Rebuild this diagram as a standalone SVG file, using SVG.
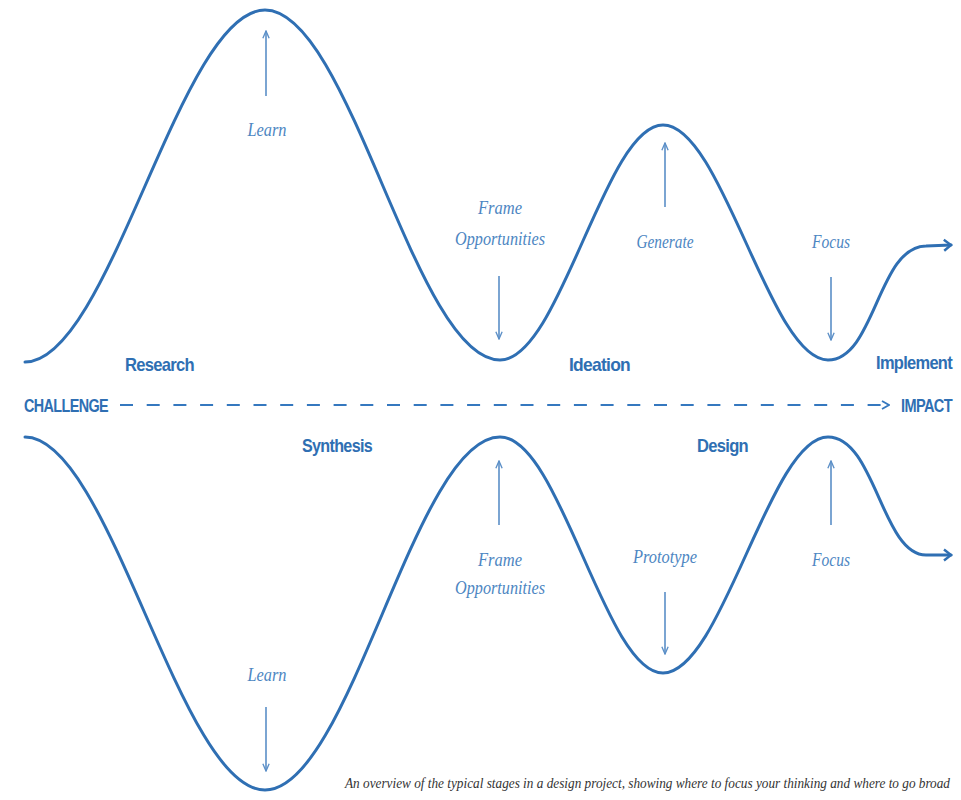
<svg xmlns="http://www.w3.org/2000/svg" width="961" height="800" viewBox="0 0 961 800">
<defs>
<style>
.curve{fill:none;stroke:#2f6fb3;stroke-width:3;stroke-linecap:round}
.arr{fill:none;stroke:#5b8fc7;stroke-width:1.6}
.dash{fill:none;stroke:#3578bf;stroke-width:2.2;stroke-dasharray:13 13.7}
.stage{font-family:"Liberation Sans",Arial,sans-serif;font-weight:bold;font-size:19px;fill:#2f6fb3;letter-spacing:-0.8px}
.act{font-family:"Liberation Serif","Times New Roman",serif;font-style:italic;font-size:19px;fill:#4d86c2;text-anchor:middle}
.cap{font-family:"Liberation Serif","Times New Roman",serif;font-style:italic;font-size:15px;fill:#333}
</style>
<marker id="open" viewBox="0 0 10 10" refX="9" refY="5" markerWidth="10" markerHeight="10" markerUnits="userSpaceOnUse" orient="auto">
<polyline points="2,1 9,5 2,9" fill="none" stroke="#3578bf" stroke-width="1.8"/>
</marker>
<marker id="big" viewBox="0 0 12 14" refX="10" refY="7" markerWidth="12" markerHeight="14" markerUnits="userSpaceOnUse" orient="auto">
<polyline points="3,1.5 10,7 3,12.5" fill="none" stroke="#2f6fb3" stroke-width="2.4"/>
</marker>
<marker id="thin" viewBox="0 0 10 10" refX="9" refY="5" markerWidth="9" markerHeight="9" markerUnits="userSpaceOnUse" orient="auto">
<polyline points="1,1.5 9,5 1,8.5" fill="none" stroke="#5b8fc7" stroke-width="1.5"/>
</marker>
</defs>
<g id="connectors">
<path id="top-curve" class="curve" marker-end="url(#big)" d="M25,362 C110,362 180,10 265,10 C350,10 415,360 500,360 C560,360 605,125 663,125 C722,125 770,360 828,360 C875,360 878,246 926,246 L951,245"/>
<path id="bottom-curve" class="curve" marker-end="url(#big)" d="M25,437 C110,437 180,790 265,790 C350,790 415,437 500,437 C560,437 605,673 663,673 C722,673 770,437 828,437 C875,437 882,555 926,555 L951,555"/>
<path id="main-line" class="dash" marker-end="url(#open)" d="M120,405 L889,405"/>
<line class="arr" marker-end="url(#thin)" x1="266" y1="96" x2="266" y2="31"/>
<line class="arr" marker-end="url(#thin)" x1="499" y1="276" x2="499" y2="339"/>
<line class="arr" marker-end="url(#thin)" x1="665" y1="207" x2="665" y2="143"/>
<line class="arr" marker-end="url(#thin)" x1="831" y1="277" x2="831" y2="340"/>
<line class="arr" marker-end="url(#thin)" x1="499" y1="525" x2="499" y2="461"/>
<line class="arr" marker-end="url(#thin)" x1="665" y1="592" x2="665" y2="654"/>
<line class="arr" marker-end="url(#thin)" x1="831" y1="525" x2="831" y2="461"/>
<line class="arr" marker-end="url(#thin)" x1="266" y1="707" x2="266" y2="771"/>
</g>
<g id="challenge"><text class="stage" x="24" y="412" textLength="84" lengthAdjust="spacingAndGlyphs">CHALLENGE</text></g>
<g id="impact"><text class="stage" x="901" y="412" textLength="51" lengthAdjust="spacingAndGlyphs">IMPACT</text></g>
<g id="research"><text class="stage" x="125" y="371" textLength="69" lengthAdjust="spacingAndGlyphs">Research</text></g>
<g id="ideation"><text class="stage" x="569" y="371" textLength="61" lengthAdjust="spacingAndGlyphs">Ideation</text></g>
<g id="implement"><text class="stage" x="876" y="369" textLength="76" lengthAdjust="spacingAndGlyphs">Implement</text></g>
<g id="synthesis"><text class="stage" x="302" y="452" textLength="70" lengthAdjust="spacingAndGlyphs">Synthesis</text></g>
<g id="design"><text class="stage" x="697" y="452" textLength="51" lengthAdjust="spacingAndGlyphs">Design</text></g>
<g id="learn-top"><text class="act" x="267" y="136" textLength="39" lengthAdjust="spacingAndGlyphs">Learn</text></g>
<g id="frame-top"><text class="act" x="500" y="214" textLength="44" lengthAdjust="spacingAndGlyphs">Frame</text><text class="act" x="500" y="245" textLength="90" lengthAdjust="spacingAndGlyphs">Opportunities</text></g>
<g id="generate"><text class="act" x="665" y="248" textLength="57" lengthAdjust="spacingAndGlyphs">Generate</text></g>
<g id="focus-top"><text class="act" x="831" y="248" textLength="38" lengthAdjust="spacingAndGlyphs">Focus</text></g>
<g id="frame-bottom"><text class="act" x="500" y="566" textLength="44" lengthAdjust="spacingAndGlyphs">Frame</text><text class="act" x="500" y="594" textLength="90" lengthAdjust="spacingAndGlyphs">Opportunities</text></g>
<g id="prototype"><text class="act" x="665" y="563" textLength="64" lengthAdjust="spacingAndGlyphs">Prototype</text></g>
<g id="focus-bottom"><text class="act" x="831" y="566" textLength="38" lengthAdjust="spacingAndGlyphs">Focus</text></g>
<g id="learn-bottom"><text class="act" x="267" y="681" textLength="39" lengthAdjust="spacingAndGlyphs">Learn</text></g>
<g id="caption"><text class="cap" x="345" y="788" textLength="605" lengthAdjust="spacingAndGlyphs">An overview of the typical stages in a design project, showing where to focus your thinking and where to go broad</text></g>
</svg>
